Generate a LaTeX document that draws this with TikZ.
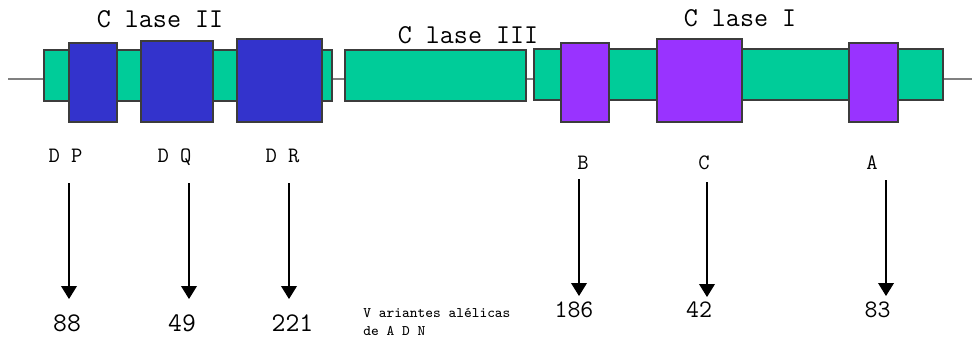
\documentclass[tikz,border=0pt]{standalone}
\usepackage{fontspec}
\setmainfont{Latin Modern Mono}
\usetikzlibrary{arrows.meta}
\definecolor{verde}{RGB}{0,204,153}
\definecolor{azul}{RGB}{51,51,204}
\definecolor{morado}{RGB}{153,51,255}
\definecolor{borde}{RGB}{60,60,60}

\begin{document}
\begin{tikzpicture}[x=0.02cm,y=-0.02cm,
	exon/.style={fill=verde,draw=borde,line width=0.6pt},
	claseII/.style={fill=azul,draw=borde,line width=0.6pt},
	claseI/.style={fill=morado,draw=borde,line width=0.6pt},
	flecha/.style={-{Triangle[width=9pt,length=7.4pt]},line width=0.6pt},
	titulo/.style={anchor=base,font=\fontsize{15.5}{17}\selectfont,inner sep=0pt},
	gen/.style={anchor=base,font=\fontsize{12.5}{14}\selectfont,inner sep=0pt},
	numero/.style={anchor=base,font=\fontsize{15.3}{17}\selectfont,inner sep=0pt}]
	\useasboundingbox (0,0) rectangle (972,339);
	% linea
	\draw [gray, line width=0.6pt] (8,79) -- (972,79);
	% bloques
	\draw [exon] (44,50) rectangle (332,101);
	\draw [exon] (345,50) rectangle (526,101);
	\draw [exon] (534,49) rectangle (943,100);
	\draw [claseII] (69,43) rectangle (117,122);
	\draw [claseII] (141,41) rectangle (213,122);
	\draw [claseII] (237,39) rectangle (322,122);
	\draw [claseI] (561,43) rectangle (609,122);
	\draw [claseI] (657,39) rectangle (742,122);
	\draw [claseI] (849,43) rectangle (898,122);
	% titulos
	\node [titulo] (t2) at (160,27) {C lase II};
	\node [titulo] (t3) at (468,43) {C lase III};
	\node [titulo] (t1) at (740,26) {C lase I};
	% genes
	\node [gen] (dp) at (65.5,162) {D P};
	\node [gen] (dq) at (174.5,162) {D Q};
	\node [gen] (dr) at (282.5,162) {D R};
	\node [gen] (b) at (583,169) {B};
	\node [gen] (c) at (704,169) {C};
	\node [gen] (a) at (872,169) {A};
	% flechas
	\coordinate (dp-i) at (69,183);   \coordinate (dp-f) at (69,299);
	\coordinate (dq-i) at (189,183);  \coordinate (dq-f) at (189,299);
	\coordinate (dr-i) at (289,183);  \coordinate (dr-f) at (289,299);
	\coordinate (b-i) at (579,179);   \coordinate (b-f) at (579,296);
	\coordinate (c-i) at (707,182);   \coordinate (c-f) at (707,297);
	\coordinate (a-i) at (886,180);   \coordinate (a-f) at (886,296);
	\draw [flecha] (dp-i) -- (dp-f);
	\draw [flecha] (dq-i) -- (dq-f);
	\draw [flecha] (dr-i) -- (dr-f);
	\draw [flecha] (b-i) -- (b-f);
	\draw [flecha] (c-i) -- (c-f);
	\draw [flecha] (a-i) -- (a-f);
	% numeros
	\node [numero] (n-dp) at (67,331) {88};
	\node [numero] (n-dq) at (182,331) {49};
	\node [numero] (n-dr) at (292.5,331) {221};
	\node [numero, font=\fontsize{14.3}{16}\selectfont] (n-b) at (574,317) {186};
	\node [numero, font=\fontsize{14.3}{16}\selectfont] (n-c) at (699,317) {42};
	\node [numero, font=\fontsize{14.3}{16}\selectfont] (n-a) at (877.5,317) {83};
	% leyenda
	\node [anchor=base west, inner sep=0pt, font=\fontsize{8.3}{9}\selectfont] (var1) at (363,317) {V ariantes alélicas};
	\node [anchor=base west, inner sep=0pt, font=\fontsize{8.3}{9}\selectfont] (var2) at (363,335) {de A D N};
\end{tikzpicture}
\end{document}
